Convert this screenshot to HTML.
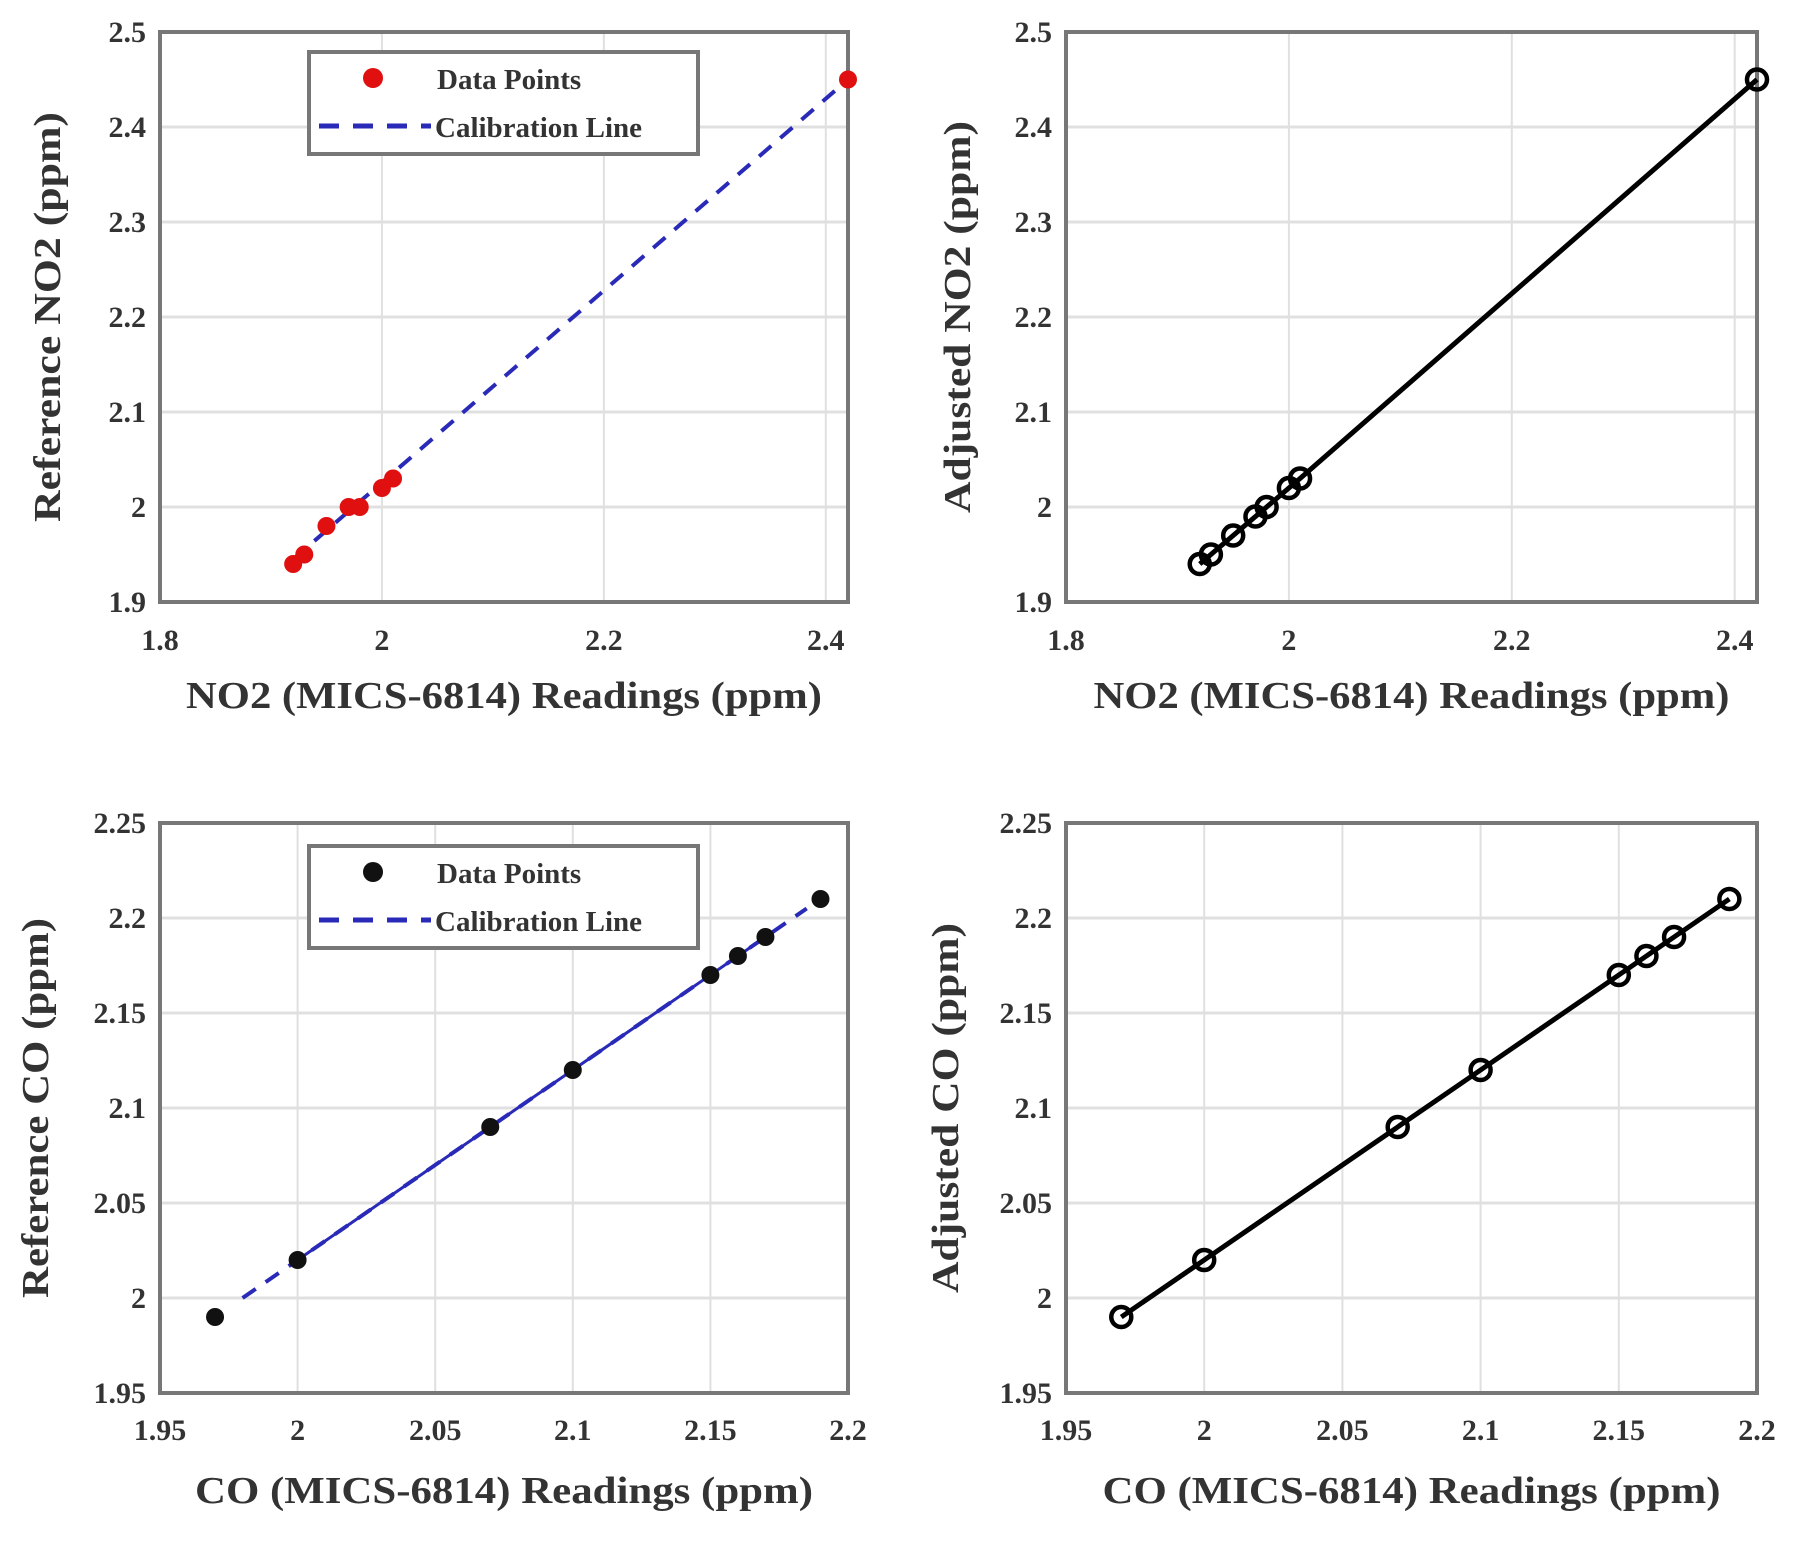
<!DOCTYPE html>
<html><head><meta charset="utf-8"><style>
html,body{margin:0;padding:0;background:#fff}
svg{display:block}
text{font-family:"Liberation Serif",serif;font-weight:bold;fill:#333}
</style></head><body>
<svg id="fig" width="1799" height="1550" viewBox="0 0 1799 1550"></svg>
<script>
const no2Readings=[1.92,1.93,1.95,1.97,1.98,2.00,2.01,2.42];
const no2Reference=[1.94,1.95,1.98,2.00,2.00,2.02,2.03,2.45];
const no2Adjusted=[1.94,1.95,1.97,1.99,2.00,2.02,2.03,2.45];
const no2CalX=[1.92,2.42];
const no2CalY=[1.945,2.45];
const no2XTicks=[1.8,2,2.2,2.4];
const no2YTicks=[1.9,2,2.1,2.2,2.3,2.4,2.5];
const coReadings=[1.97,2.00,2.07,2.10,2.15,2.16,2.17,2.19];
const coReference=[1.99,2.02,2.09,2.12,2.17,2.18,2.19,2.21];
const coAdjusted=[1.99,2.02,2.09,2.12,2.17,2.18,2.19,2.21];
const coCalX=[1.98,2.185];
const coCalY=[2.0,2.205];
const coXTicks=[1.95,2,2.05,2.1,2.15,2.2];
const coYTicks=[1.95,2,2.05,2.1,2.15,2.2,2.25];
const NS="http://www.w3.org/2000/svg";
const svg=document.getElementById('fig');
function el(tag,attrs,parent,txt){const e=document.createElementNS(NS,tag);for(const k in attrs)e.setAttribute(k,attrs[k]);if(txt!==undefined)e.textContent=txt;(parent||svg).appendChild(e);return e;}
function fmt(v){return String(+v.toFixed(2));}
function panel(o){
  const g=el('g',{},svg);
  
  
  const L=o.L,R=o.R,T=o.T,B=o.B;
  const sx=v=>L+(v-o.xmin)/(o.xmax-o.xmin)*(R-L);
  const sy=v=>B-(v-o.ymin)/(o.ymax-o.ymin)*(B-T);
  o.xTicks.forEach(t=>{
    const gl=el('line',{x1:sx(t),x2:sx(t),y1:T,y2:B,stroke:'#e0e0e0','stroke-width':2},g);
    
    
    const tl=el('text',{x:sx(t),y:o.xTickY,'text-anchor':'middle','font-size':30},g,fmt(t));
    
    
  });
  o.yTicks.forEach(t=>{
    const gl=el('line',{x1:L,x2:R,y1:sy(t),y2:sy(t),stroke:'#e0e0e0','stroke-width':3},g);
    
    
    const tl=el('text',{x:L-14,y:sy(t)+10,'text-anchor':'end','font-size':30},g,fmt(t));
    
    
  });
  const fr=el('rect',{x:L,y:T,width:R-L,height:B-T,fill:'none',stroke:'#777','stroke-width':4},g);
  
  
  const xt=el('text',{x:(L+R)/2,y:o.xTitleY,'text-anchor':'middle','font-size':38,textLength:o.xTitleW,lengthAdjust:'spacingAndGlyphs'},g,o.xTitle);
  
  
  const yt=el('text',{x:0,y:0,'text-anchor':'middle','font-size':38,transform:`translate(${o.yTitleX},${(T+B)/2}) rotate(-90)`,textLength:o.yTitleW,lengthAdjust:'spacingAndGlyphs'},g,o.yTitle);
  
  
  if(o.cal){
    const cl=el('line',{x1:sx(o.cal[0][0]),y1:sy(o.cal[1][0]),x2:sx(o.cal[0][1]),y2:sy(o.cal[1][1]),stroke:'#2a2ab8','stroke-width':4,'stroke-dasharray':'16 12'},g);
    
    
    if(o.solid){
      const sl=el('line',{x1:sx(o.xs[1]),y1:sy(o.ys[1]),x2:sx(o.xs[6]),y2:sy(o.ys[6]),stroke:'#2a2ab8','stroke-width':3},g);
      
      
    }
    o.xs.forEach((x,i)=>{
      const c=el('circle',{cx:sx(x),cy:sy(o.ys[i]),r:9,fill:o.color},g);
      
      
    });
    const lg=el('g',{},g);
    
    
    el('rect',{x:o.leg[0],y:o.leg[1],width:389,height:102,fill:'#fff',stroke:'#777','stroke-width':4},lg);
    const ld=el('circle',{cx:o.leg[0]+64,cy:o.leg[1]+26,r:10,fill:o.color},lg);
    
    
    el('text',{x:o.leg[0]+128,y:o.leg[1]+37,'font-size':29},lg,'Data Points');
    const ll=el('line',{x1:o.leg[0]+10,x2:o.leg[0]+122,y1:o.leg[1]+74,y2:o.leg[1]+74,stroke:'#2a2ab8','stroke-width':5,'stroke-dasharray':'20 14'},lg);
    
    
    el('text',{x:o.leg[0]+126,y:o.leg[1]+85,'font-size':29},lg,'Calibration Line');
  } else {
    const pts=o.xs.map((x,i)=>sx(x)+','+sy(o.ys[i])).join(' ');
    const pl=el('polyline',{points:pts,fill:'none',stroke:'#000','stroke-width':5},g);
    
    
    o.xs.forEach((x,i)=>{
      const c=el('circle',{cx:sx(x),cy:sy(o.ys[i]),r:10,fill:'none',stroke:'#000','stroke-width':4.5},g);
      
      
    });
  }
}
const topY={T:32,B:602,xTickY:650,xTitleY:708};
const botY={T:823,B:1393,xTickY:1440,xTitleY:1503};
panel(Object.assign({name:'no2-calibration-panel',L:160,R:848,xmin:1.8,xmax:2.42,ymin:1.9,ymax:2.5,xTicks:no2XTicks,yTicks:no2YTicks,xs:no2Readings,ys:no2Reference,cal:[no2CalX,no2CalY],color:'#e01010',leg:[309,52],xTitle:'NO2 (MICS-6814) Readings  (ppm)',xTitleW:636,yTitle:'Reference NO2  (ppm)',yTitleW:410,yTitleX:60},topY));
panel(Object.assign({name:'no2-adjusted-panel',L:1066,R:1757,xmin:1.8,xmax:2.42,ymin:1.9,ymax:2.5,xTicks:no2XTicks,yTicks:no2YTicks,xs:no2Readings,ys:no2Adjusted,xTitle:'NO2 (MICS-6814) Readings  (ppm)',xTitleW:636,yTitle:'Adjusted NO2  (ppm)',yTitleW:392,yTitleX:970},topY));
panel(Object.assign({name:'co-calibration-panel',L:160,R:848,xmin:1.95,xmax:2.2,ymin:1.95,ymax:2.25,xTicks:coXTicks,yTicks:coYTicks,xs:coReadings,ys:coReference,cal:[coCalX,coCalY],solid:true,color:'#111',leg:[309,846],xTitle:'CO (MICS-6814) Readings  (ppm)',xTitleW:618,yTitle:'Reference CO (ppm)',yTitleW:380,yTitleX:48},botY));
panel(Object.assign({name:'co-adjusted-panel',L:1066,R:1757,xmin:1.95,xmax:2.2,ymin:1.95,ymax:2.25,xTicks:coXTicks,yTicks:coYTicks,xs:coReadings,ys:coAdjusted,xTitle:'CO (MICS-6814) Readings  (ppm)',xTitleW:618,yTitle:'Adjusted CO (ppm)',yTitleW:370,yTitleX:958},botY));
</script>
</body></html>
